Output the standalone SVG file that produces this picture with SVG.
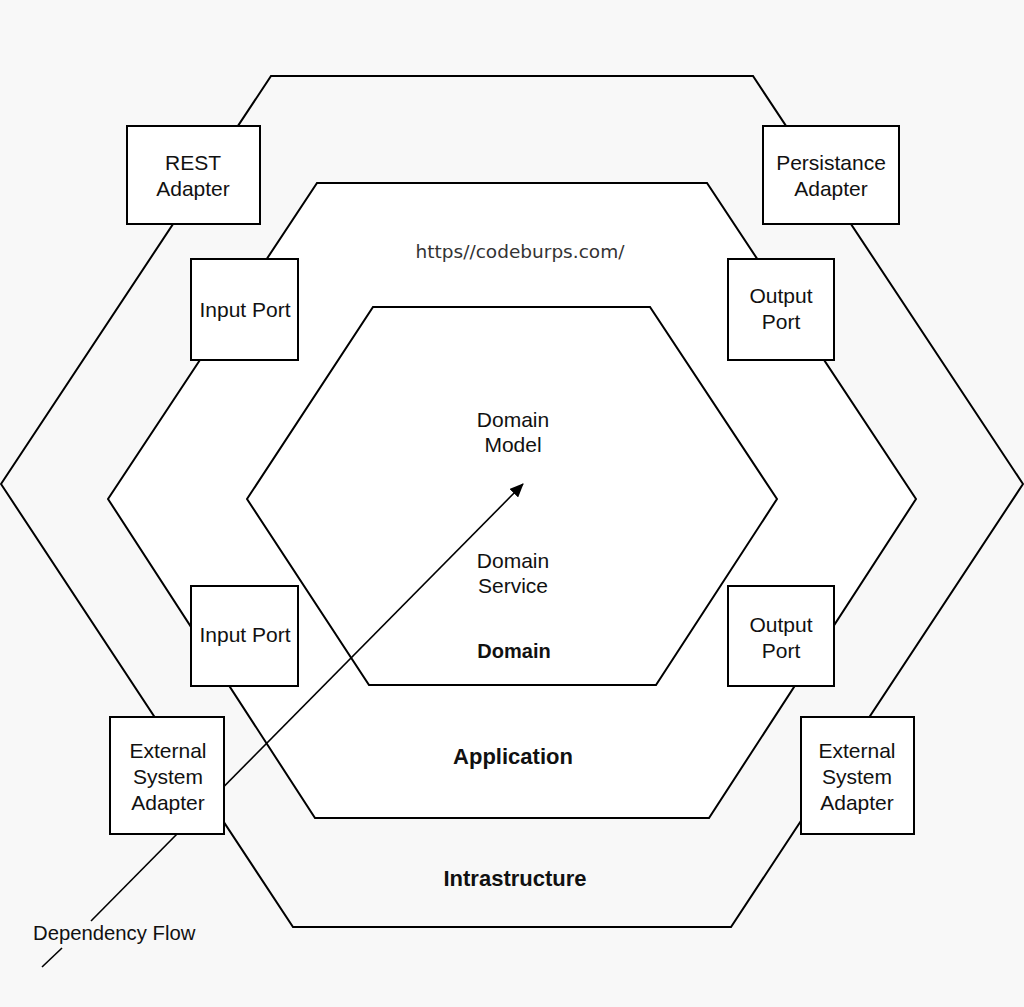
<svg xmlns="http://www.w3.org/2000/svg" width="1024" height="1007" viewBox="0 0 1024 1007">
<style>
.hex{stroke:#000;stroke-width:2;stroke-linejoin:miter}
.box{fill:#fff;stroke:#000;stroke-width:2}
.t{font-family:"Liberation Sans",Arial,sans-serif;font-size:21px;fill:#111;text-anchor:middle}
.b{font-weight:bold;font-size:22px}
.url{font-family:"DejaVu Sans",sans-serif;font-size:18.5px;fill:#333;text-anchor:middle}
.conn{stroke:#000;stroke-width:1.6;fill:none}
</style>
<defs>
<marker id="arrow" viewBox="0 0 14 12" refX="13" refY="6" markerWidth="14" markerHeight="12" markerUnits="userSpaceOnUse" orient="auto"><path d="M0,0 L14,6 L0,12 z" fill="#000"/></marker>
</defs>
<rect width="1024" height="1007" fill="#f8f8f8"/>
<g id="infrastructure">
<polygon class="hex" fill="#f8f8f8" points="271,76 753,76 1023,484 731,927 293,927 1,484"/>
<text class="t b" x="515" y="886">Intrastructure</text>
</g>
<g id="application">
<polygon class="hex" fill="#fff" points="317,183 707,183 916,499 709,818 315,818 108,499"/>
<text class="url" x="520" y="258">https//codeburps.com/</text>
<text class="t b" x="513" y="764">Application</text>
</g>
<g id="domain">
<polygon class="hex" fill="#fff" points="373,307 650,307 777,499 656,685 369,685 247,499"/>
<text class="t" x="513" y="427">Domain</text>
<text class="t" x="513" y="452">Model</text>
<text class="t" x="513" y="568">Domain</text>
<text class="t" x="513" y="593">Service</text>
<text class="t b" x="514" y="658" style="font-size:20px">Domain</text>
</g>
<g id="connectors">
<line class="conn" x1="42" y1="967" x2="62" y2="948"/>
<line class="conn" x1="91" y1="921" x2="523" y2="484" marker-end="url(#arrow)"/>
</g>
<g id="rest-adapter">
<rect class="box" x="127" y="126" width="133" height="98"/>
<text class="t" x="193" y="170">REST</text>
<text class="t" x="193" y="196">Adapter</text>
</g>
<g id="persistance-adapter">
<rect class="box" x="763" y="126" width="136" height="98"/>
<text class="t" x="831" y="170">Persistance</text>
<text class="t" x="831" y="196">Adapter</text>
</g>
<g id="input-port-top">
<rect class="box" x="191" y="259" width="107" height="101"/>
<text class="t" x="245" y="317">Input Port</text>
</g>
<g id="output-port-top">
<rect class="box" x="728" y="259" width="106" height="101"/>
<text class="t" x="781" y="303">Output</text>
<text class="t" x="781" y="329">Port</text>
</g>
<g id="input-port-bottom">
<rect class="box" x="191" y="586" width="107" height="100"/>
<text class="t" x="245" y="642">Input Port</text>
</g>
<g id="output-port-bottom">
<rect class="box" x="728" y="586" width="106" height="100"/>
<text class="t" x="781" y="632">Output</text>
<text class="t" x="781" y="658">Port</text>
</g>
<g id="external-adapter-left">
<rect class="box" x="110" y="717" width="114" height="117"/>
<text class="t" x="168" y="758">External</text>
<text class="t" x="168" y="784">System</text>
<text class="t" x="168" y="810">Adapter</text>
</g>
<g id="external-adapter-right">
<rect class="box" x="801" y="717" width="113" height="117"/>
<text class="t" x="857" y="758">External</text>
<text class="t" x="857" y="784">System</text>
<text class="t" x="857" y="810">Adapter</text>
</g>
<g id="dependency-flow-label">
<text class="t" x="33" y="940" style="text-anchor:start;font-size:20.3px">Dependency Flow</text>
</g>
</svg>
